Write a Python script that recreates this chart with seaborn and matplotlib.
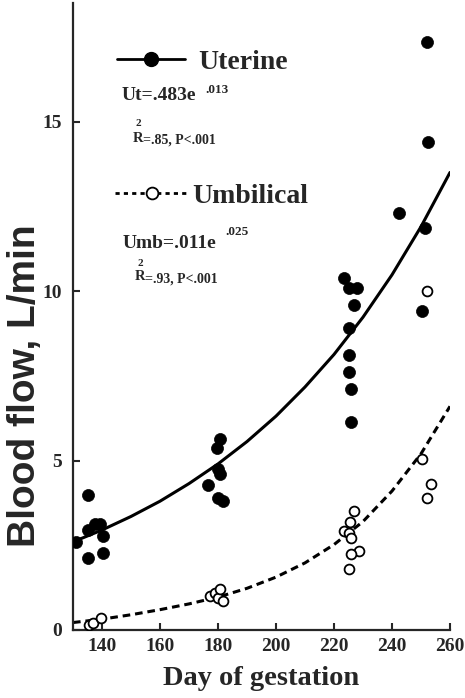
import numpy as np
import pandas as pd
import seaborn as sns
import matplotlib.pyplot as plt
from matplotlib.lines import Line2D

# uterine blood flow, individual measurements (filled circles)
ut_day = [131, 135.2, 135.2, 137.6, 139.3, 140.3, 135.2, 140.3,
          176.6, 179.7, 180.7, 180, 180.7, 180, 181.7,
          223.4, 225.1, 228.1, 226.8, 225.1, 225.1, 225.1, 225.8, 225.8,
          242.4, 250.2, 251.5, 252.5, 251.9]
ut_flow = [2.6, 3.99, 2.96, 3.13, 3.13, 2.78, 2.13, 2.28,
           4.29, 5.38, 5.65, 4.76, 4.6, 3.9, 3.8,
           10.4, 10.1, 10.1, 9.6, 8.9, 8.1, 7.6, 7.1, 6.15,
           12.3, 9.4, 11.85, 14.4, 17.35]

# umbilical blood flow (open circles)
umb_day = [135.5, 137, 139.5, 177.2, 179, 180, 180.7, 181.7,
           226.8, 225.4, 223.4, 225.1, 225.8, 228.5, 225.8, 225.1,
           250.2, 253.4, 251.9, 251.9]
umb_flow = [0.15, 0.22, 0.36, 1.0, 1.1, 0.95, 1.21, 0.86,
            3.52, 3.2, 2.93, 2.87, 2.72, 2.34, 2.25, 1.8,
            5.05, 4.3, 3.9, 10.0]

# fitted curves
curve_day = [130, 140, 150, 160, 170, 180, 190, 200, 210, 220, 230, 240, 250, 260]
ut_curve = [2.6, 2.95, 3.35, 3.8, 4.32, 4.9, 5.56, 6.31, 7.17, 8.13, 9.23, 10.48, 11.9, 13.5]
umb_curve = [0.22, 0.32, 0.45, 0.6, 0.77, 0.97, 1.23, 1.56, 1.98, 2.52, 3.2, 4.1, 5.2, 6.6]

x_ticks = [140, 160, 180, 200, 220, 240, 260]
y_ticks = [0, 5, 10, 15]

df_ut = pd.DataFrame({'day': ut_day, 'flow': ut_flow})
df_umb = pd.DataFrame({'day': umb_day, 'flow': umb_flow})
df_curve = pd.DataFrame({'day': curve_day, 'ut': ut_curve, 'umb': umb_curve})

sns.set_style('ticks')
plt.rcParams['font.family'] = ['Liberation Serif', 'DejaVu Serif']
plt.rcParams['font.weight'] = 'bold'

W, H = 465, 698
fig = plt.figure(figsize=(W / 100, H / 100), dpi=100)
ax = fig.add_axes([73 / W, 68 / H, (450 - 73) / W, (630 - 3) / H])

dash = (0, (2.5, 1.6))
sns.lineplot(data=df_curve, x='day', y='ut', ax=ax, color='black', lw=2.2, zorder=2)
sns.lineplot(data=df_curve, x='day', y='umb', ax=ax, color='black', lw=2.2,
             linestyle=dash, zorder=2)
sns.scatterplot(data=df_ut, x='day', y='flow', ax=ax, color='black', s=75,
                edgecolor='black', linewidth=0.5, zorder=3)
sns.scatterplot(data=df_umb, x='day', y='flow', ax=ax, color='white', s=50,
                edgecolor='black', linewidth=1.3, zorder=3)

ax.set_xlim(130, 260)
ax.set_ylim(0, 18.5)
ax.set_xticks(x_ticks)
ax.set_yticks(y_ticks)
sns.despine(ax=ax)
for s in ['left', 'bottom']:
    ax.spines[s].set_linewidth(1.6)
ax.tick_params(direction='in', length=5, width=1.5, labelsize=14, pad=6)
ax.tick_params(axis='y', pad=8)
for lab in ax.get_xticklabels() + ax.get_yticklabels():
    lab.set_fontweight('bold')

ax.set_xlabel('Day of gestation', fontsize=20.5, fontweight='bold')
ax.xaxis.set_label_coords(0.5, -0.058)
ax.set_ylabel('Blood flow, L/min', fontsize=28, fontweight='bold',
              family=['Liberation Sans', 'DejaVu Sans'])
ax.yaxis.set_label_coords(-0.079, 0.389)

# legend entries, each followed by its equation
h_ut = Line2D([], [], color='black', lw=2.0, marker='o', ms=10)
h_umb = Line2D([], [], color='black', lw=2.0, linestyle=(0, (1.5, 1.5)), marker='o',
               ms=8.5, markerfacecolor='white', markeredgewidth=1.3)
leg1 = ax.legend(handles=[h_ut], labels=['Uterine'], loc='center left',
                 bbox_to_anchor=(117 / W, 1 - 62 / H), bbox_transform=fig.transFigure,
                 frameon=False, borderpad=0, borderaxespad=0, handlelength=2.45,
                 handletextpad=0.47, prop={'family': 'Liberation Serif', 'weight': 'bold', 'size': 20})
ax.add_artist(leg1)
ax.legend(handles=[h_umb], labels=['Umbilical'], loc='center left',
          bbox_to_anchor=(115 / W, 1 - 196 / H), bbox_transform=fig.transFigure,
          frameon=False, borderpad=0, borderaxespad=0, handlelength=2.63,
          handletextpad=0.15, prop={'family': 'Liberation Serif', 'weight': 'bold', 'size': 20})


def ftxt(x, y, s, size):
    fig.text(x / W, 1 - y / H, s, fontsize=size, fontweight='bold', ha='left', va='center')


ftxt(122, 96, 'Ut=.483e', 14)
ftxt(205, 90, '.013', 9.5)
ftxt(133, 138, 'R', 10.5)
ftxt(135, 124, '2', 8)
ftxt(143, 140, '=.85, P<.001', 10)

ftxt(123, 244, 'Umb=.011e', 14)
ftxt(225, 232, '.025', 9.5)
ftxt(135, 277, 'R', 10.5)
ftxt(137, 263, '2', 8)
ftxt(145, 279, '=.93, P<.001', 10)

fig.savefig('out.png', dpi=100)
